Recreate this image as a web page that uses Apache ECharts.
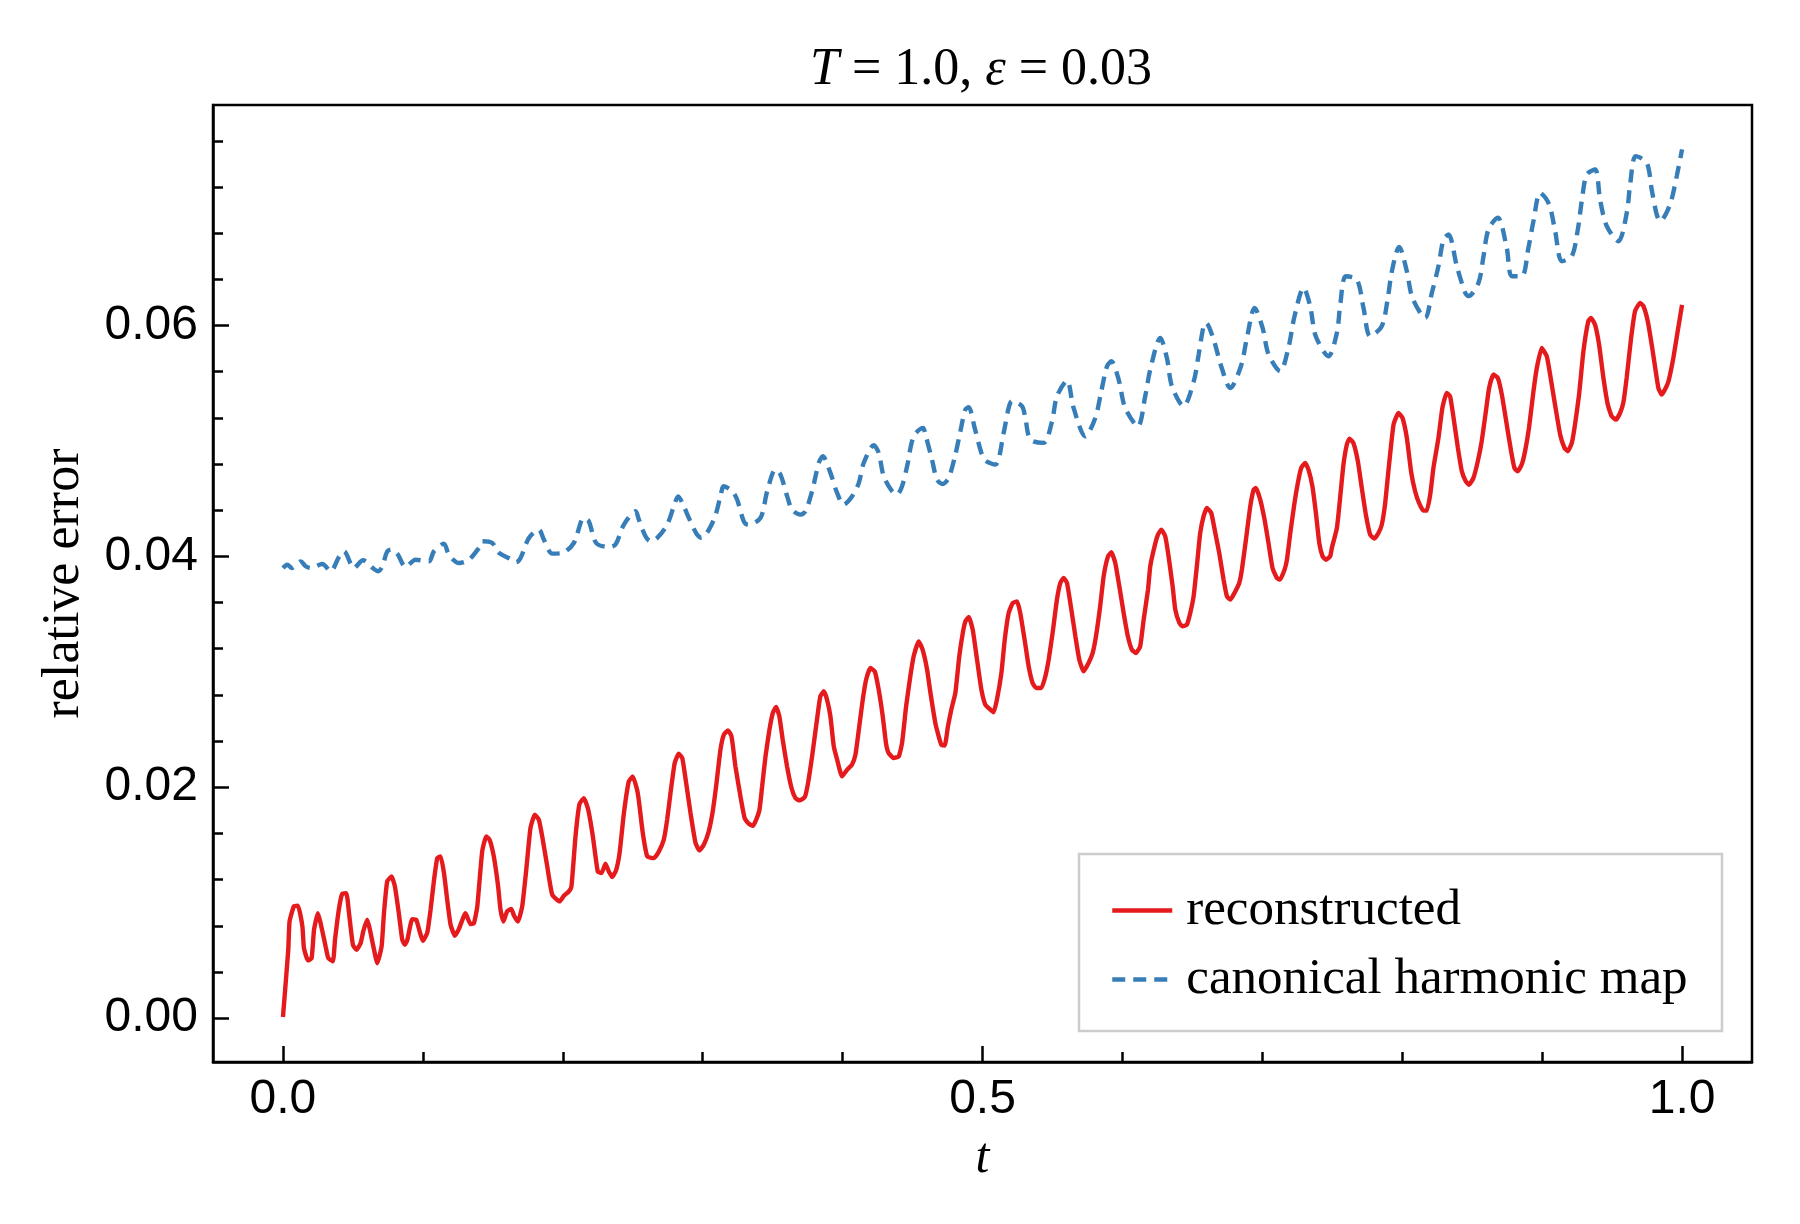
<!DOCTYPE html>
<html>
<head>
<meta charset="utf-8" />
<title>relative error</title>
<script type="text/javascript" src="https://cdn.jsdelivr.net/npm/echarts@6.0.0/dist/echarts.min.js"></script>
<style>
  html, body { margin: 0; padding: 0; background: #fff; }
  #chart { width: 1800px; height: 1224px; }
</style>
</head>
<body>
<div id="chart"></div>
<script type="text/javascript">
// values
var redT = [0.0000,0.0038,0.0047,0.0078,0.0107,0.0139,0.0150,0.0179,0.0205,0.0222,0.0250,0.0269,0.0305,0.0324,0.0357,0.0372,0.0401,0.0424,0.0453,0.0472,
  0.0500,0.0526,0.0555,0.0574,0.0602,0.0619,0.0651,0.0674,0.0705,0.0722,0.0745,0.0776,0.0800,0.0828,0.0853,0.0872,0.0889,0.0924,0.0953,0.0977,
  0.1000,0.1031,0.1055,0.1080,0.1103,0.1127,0.1151,0.1174,0.1198,0.1229,0.1257,0.1305,0.1340,0.1365,0.1389,0.1424,0.1453,0.1477,0.1507,0.1538,
  0.1555,0.1576,0.1602,0.1632,0.1651,0.1679,0.1710,0.1739,0.1769,0.1800,0.1829,0.1853,0.1889,0.1925,0.1977,0.2008,0.2043,0.2062,0.2091,0.2119,
  0.2151,0.2182,0.2215,0.2250,0.2277,0.2305,0.2329,0.2354,0.2382,0.2406,0.2437,0.2472,0.2501,0.2531,0.2543,0.2572,0.2604,0.2651,0.2687,0.2722,
  0.2746,0.2770,0.2800,0.2829,0.2854,0.2882,0.2913,0.2949,0.2977,0.3008,0.3043,0.3072,0.3096,0.3127,0.3151,0.3180,0.3206,0.3234,0.3270,0.3300,
  0.3329,0.3359,0.3382,0.3406,0.3425,0.3449,0.3477,0.3501,0.3525,0.3548,0.3572,0.3603,0.3635,0.3663,0.3692,0.3730,0.3753,0.3782,0.3817,0.3841,
  0.3866,0.3889,0.3913,0.3937,0.3961,0.3996,0.4032,0.4067,0.4092,0.4116,0.4144,0.4168,0.4199,0.4230,0.4258,0.4287,0.4310,0.4329,0.4365,0.4401,
  0.4425,0.4454,0.4484,0.4508,0.4544,0.4572,0.4604,0.4628,0.4663,0.4687,0.4706,0.4730,0.4753,0.4777,0.4806,0.4834,0.4859,0.4878,0.4902,0.4930,
  0.4961,0.4992,0.5020,0.5044,0.5079,0.5103,0.5135,0.5159,0.5187,0.5216,0.5247,0.5270,0.5301,0.5330,0.5358,0.5383,0.5421,0.5449,0.5473,0.5501,
  0.5532,0.5556,0.5580,0.5604,0.5635,0.5664,0.5692,0.5723,0.5758,0.5787,0.5811,0.5841,0.5866,0.5897,0.5921,0.5949,0.5978,0.6009,0.6039,0.6068,
  0.6096,0.6127,0.6152,0.6183,0.6199,0.6230,0.6254,0.6278,0.6306,0.6330,0.6359,0.6378,0.6407,0.6430,0.6461,0.6485,0.6509,0.6532,0.6556,0.6580,
  0.6604,0.6635,0.6664,0.6692,0.6723,0.6747,0.6771,0.6801,0.6835,0.6854,0.6883,0.6914,0.6938,0.6954,0.6985,0.7016,0.7044,0.7073,0.7104,0.7127,
  0.7159,0.7176,0.7200,0.7230,0.7254,0.7278,0.7306,0.7330,0.7358,0.7383,0.7407,0.7431,0.7454,0.7485,0.7497,0.7533,0.7556,0.7580,0.7604,0.7623,
  0.7651,0.7683,0.7711,0.7740,0.7771,0.7801,0.7830,0.7854,0.7877,0.7901,0.7938,0.7973,0.8002,0.8033,0.8063,0.8092,0.8120,0.8151,0.8175,0.8200,
  0.8223,0.8259,0.8287,0.8318,0.8342,0.8367,0.8398,0.8426,0.8454,0.8478,0.8509,0.8540,0.8568,0.8598,0.8621,0.8652,0.8683,0.8712,0.8747,0.8778,
  0.8802,0.8825,0.8854,0.8878,0.8906,0.8938,0.8962,0.8997,0.9033,0.9057,0.9092,0.9129,0.9160,0.9183,0.9212,0.9235,0.9264,0.9295,0.9330,0.9349,
  0.9378,0.9407,0.9438,0.9469,0.9497,0.9528,0.9557,0.9580,0.9604,0.9636,0.9664,0.9700,0.9724,0.9755,0.9783,0.9812,0.9831,0.9854,0.9878,0.9903,
  0.9938,0.9969,1.0000];
var redV = [0.00010,0.00592,0.00837,0.00968,0.00974,0.00794,0.00606,0.00500,0.00520,0.00765,0.00910,0.00823,0.00621,0.00520,0.00491,0.00678,0.00953,0.01077,0.01083,0.00910,
  0.00635,0.00592,0.00649,0.00751,0.00852,0.00780,0.00592,0.00476,0.00621,0.00910,0.01184,0.01227,0.01141,0.00910,0.00678,0.00635,0.00678,0.00857,0.00852,0.00751,
  0.00670,0.00737,0.00939,0.01199,0.01386,0.01401,0.01256,0.01025,0.00809,0.00714,0.00771,0.00910,0.00814,0.00823,0.00968,0.01444,0.01574,0.01546,0.01401,0.01141,
  0.00939,0.00837,0.00925,0.00945,0.00889,0.00837,0.00968,0.01285,0.01646,0.01762,0.01718,0.01574,0.01314,0.01068,0.01011,0.01060,0.01097,0.01141,0.01574,0.01852,
  0.01906,0.01805,0.01574,0.01271,0.01256,0.01338,0.01271,0.01222,0.01285,0.01430,0.01777,0.02051,0.02094,0.01979,0.01892,0.01603,0.01401,0.01386,0.01444,0.01546,
  0.01718,0.01950,0.02210,0.02290,0.02253,0.02036,0.01777,0.01517,0.01453,0.01502,0.01617,0.01791,0.02008,0.02325,0.02455,0.02493,0.02441,0.02181,0.01920,0.01732,
  0.01684,0.01666,0.01718,0.01805,0.02008,0.02267,0.02498,0.02643,0.02695,0.02614,0.02412,0.02181,0.01993,0.01906,0.01886,0.01915,0.02036,0.02267,0.02586,0.02788,
  0.02831,0.02758,0.02614,0.02354,0.02239,0.02094,0.02151,0.02195,0.02282,0.02498,0.02758,0.02932,0.03033,0.03004,0.02845,0.02614,0.02383,0.02296,0.02253,0.02267,
  0.02383,0.02701,0.02960,0.03134,0.03264,0.03192,0.03019,0.02817,0.02556,0.02441,0.02368,0.02362,0.02527,0.02672,0.02817,0.03134,0.03336,0.03438,0.03475,0.03365,
  0.03105,0.02845,0.02715,0.02686,0.02650,0.02758,0.02989,0.03278,0.03509,0.03596,0.03610,0.03509,0.03278,0.03047,0.02903,0.02860,0.02860,0.02960,0.03105,0.03336,
  0.03625,0.03769,0.03813,0.03769,0.03538,0.03307,0.03105,0.03004,0.03076,0.03162,0.03307,0.03567,0.03828,0.04000,0.04036,0.03943,0.03740,0.03509,0.03307,0.03191,
  0.03162,0.03220,0.03452,0.03712,0.03914,0.04087,0.04188,0.04232,0.04174,0.04000,0.03740,0.03538,0.03423,0.03394,0.03409,0.03509,0.03654,0.03914,0.04202,0.04347,
  0.04419,0.04376,0.04202,0.04030,0.03799,0.03654,0.03625,0.03683,0.03769,0.03885,0.04145,0.04434,0.04578,0.04592,0.04492,0.04318,0.04116,0.03899,0.03813,0.03799,
  0.03885,0.03971,0.04202,0.04463,0.04636,0.04766,0.04809,0.04751,0.04607,0.04376,0.04116,0.04000,0.03971,0.04000,0.04073,0.04245,0.04506,0.04795,0.04968,0.05020,
  0.04982,0.04823,0.04592,0.04362,0.04188,0.04154,0.04202,0.04275,0.04449,0.04737,0.05142,0.05242,0.05199,0.05026,0.04737,0.04564,0.04463,0.04396,0.04396,0.04535,
  0.04766,0.05026,0.05286,0.05416,0.05387,0.05199,0.04939,0.04737,0.04651,0.04621,0.04680,0.04823,0.04997,0.05257,0.05459,0.05575,0.05546,0.05401,0.05142,0.04911,
  0.04766,0.04737,0.04795,0.04911,0.05113,0.05430,0.05632,0.05806,0.05734,0.05575,0.05315,0.05054,0.04939,0.04911,0.04982,0.05142,0.05401,0.05777,0.06037,0.06066,
  0.06008,0.05835,0.05546,0.05315,0.05214,0.05185,0.05242,0.05329,0.05546,0.05893,0.06124,0.06196,0.06167,0.06037,0.05835,0.05603,0.05459,0.05401,0.05445,0.05517,
  0.05720,0.05951,0.06179];

var blueT = [0.0000,0.0031,0.0062,0.0127,0.0162,0.0198,0.0281,0.0341,0.0400,0.0436,0.0508,0.0572,0.0650,0.0681,0.0710,0.0746,0.0777,0.0817,0.0877,0.0948,
  0.1043,0.1079,0.1150,0.1186,0.1258,0.1329,0.1400,0.1424,0.1496,0.1539,0.1627,0.1667,0.1698,0.1758,0.1829,0.1865,0.1925,0.1996,0.2079,0.2151,
  0.2186,0.2239,0.2329,0.2377,0.2437,0.2520,0.2544,0.2591,0.2627,0.2675,0.2746,0.2794,0.2825,0.2865,0.2901,0.2960,0.2991,0.3080,0.3127,0.3151,
  0.3211,0.3246,0.3294,0.3325,0.3413,0.3461,0.3520,0.3556,0.3604,0.3639,0.3699,0.3734,0.3782,0.3830,0.3858,0.3913,0.3961,0.4008,0.4068,0.4116,
  0.4151,0.4223,0.4258,0.4294,0.4354,0.4389,0.4425,0.4461,0.4508,0.4575,0.4592,0.4639,0.4675,0.4715,0.4758,0.4806,0.4842,0.4877,0.4901,0.4944,
  0.4992,0.5020,0.5092,0.5151,0.5187,0.5211,0.5282,0.5306,0.5342,0.5437,0.5497,0.5532,0.5604,0.5651,0.5735,0.5806,0.5849,0.5890,0.5920,0.5973,
  0.6020,0.6111,0.6163,0.6199,0.6271,0.6318,0.6354,0.6437,0.6510,0.6545,0.6580,0.6597,0.6652,0.6706,0.6771,0.6847,0.6890,0.6945,0.7002,0.7045,
  0.7128,0.7188,0.7230,0.7295,0.7342,0.7382,0.7473,0.7533,0.7557,0.7597,0.7676,0.7723,0.7771,0.7854,0.7897,0.7926,0.7978,0.8033,0.8073,0.8164,
  0.8212,0.8259,0.8295,0.8331,0.8390,0.8450,0.8474,0.8545,0.8581,0.8616,0.8683,0.8747,0.8783,0.8855,0.8902,0.8938,0.8986,0.9050,0.9093,0.9141,
  0.9212,0.9255,0.9283,0.9319,0.9379,0.9414,0.9462,0.9545,0.9605,0.9629,0.9669,0.9748,0.9783,0.9819,0.9843,0.9914,0.9962,1.0000];
var blueV = [0.03899,0.03928,0.03899,0.03957,0.03914,0.03899,0.03934,0.03871,0.03995,0.04044,0.03899,0.03966,0.03891,0.03871,0.03914,0.04044,0.04058,0.04024,0.03908,0.03971,
  0.03957,0.04044,0.04110,0.04015,0.03943,0.03971,0.04073,0.04131,0.04116,0.04035,0.03977,0.03949,0.03986,0.04159,0.04231,0.04145,0.04024,0.04029,0.04116,0.04333,
  0.04304,0.04116,0.04081,0.04102,0.04275,0.04391,0.04318,0.04174,0.04131,0.04160,0.04275,0.04434,0.04520,0.04434,0.04333,0.04188,0.04160,0.04318,0.04520,0.04607,
  0.04564,0.04492,0.04304,0.04275,0.04333,0.04564,0.04752,0.04708,0.04520,0.04405,0.04362,0.04390,0.04564,0.04809,0.04867,0.04723,0.04549,0.04448,0.04520,0.04636,
  0.04809,0.04962,0.04896,0.04694,0.04564,0.04535,0.04607,0.04780,0.05040,0.05113,0.05055,0.04838,0.04665,0.04627,0.04679,0.04882,0.05084,0.05271,0.05292,0.05113,
  0.04896,0.04830,0.04795,0.05069,0.05286,0.05344,0.05301,0.05199,0.05012,0.04983,0.05171,0.05387,0.05523,0.05286,0.05040,0.05199,0.05430,0.05647,0.05690,0.05532,
  0.05286,0.05127,0.05387,0.05618,0.05893,0.05719,0.05474,0.05301,0.05517,0.05748,0.05994,0.06023,0.05878,0.05647,0.05459,0.05647,0.05893,0.06153,0.05979,0.05748,
  0.05604,0.05815,0.06080,0.06326,0.06167,0.05907,0.05734,0.05936,0.06181,0.06427,0.06398,0.06153,0.05907,0.05994,0.06239,0.06470,0.06681,0.06470,0.06239,0.06066,
  0.06283,0.06514,0.06745,0.06788,0.06514,0.06283,0.06254,0.06369,0.06600,0.06831,0.06933,0.06673,0.06427,0.06427,0.06673,0.06904,0.07149,0.07048,0.06817,0.06557,
  0.06600,0.06831,0.07077,0.07308,0.07351,0.07091,0.06860,0.06730,0.06976,0.07221,0.07467,0.07409,0.07178,0.06961,0.06904,0.07048,0.07294,0.07525];

// ticks
var xMajor = [0, 0.5, 1.0];
var xMinor = [0.1, 0.2, 0.3, 0.4, 0.6, 0.7, 0.8, 0.9];
var yMajor = [0, 0.02, 0.04, 0.06];
var yMinor = [0.004, 0.008, 0.012, 0.016, 0.024, 0.028, 0.032, 0.036, 0.044, 0.048, 0.052, 0.056, 0.064, 0.068, 0.072, 0.076];

var seriesNames = ['reconstructed', 'canonical harmonic map'];

function zip(a, b) {
  var res = [];
  for (var i = 0; i < a.length; i++) res.push([a[i], b[i]]);
  return res;
}

var serif = "'Liberation Serif', 'DejaVu Serif', serif";
var sans = "'Liberation Sans', Arial, sans-serif";
var xMin = -0.05, xMax = 1.05, yMin = -0.0038, yMax = 0.0791;

var chart = echarts.init(document.getElementById('chart'));
var option = {
  backgroundColor: '#ffffff',
  animation: false,
  title: {
    text: '{i|T}{n| = 1.0, }{i|ε}{n| = 0.03}',
    left: 976,
    top: 39,
    textAlign: 'center',
    textStyle: {
      fontWeight: 'normal',
      rich: {
        i: { fontFamily: serif, fontStyle: 'italic', fontWeight: 'normal', fontSize: 52, color: '#000' },
        n: { fontFamily: serif, fontWeight: 'normal', fontSize: 52, color: '#000' }
      }
    }
  },
  grid: {
    left: 213, right: 48, top: 105, bottom: 162,
    show: true, borderColor: '#000', borderWidth: 2.5, backgroundColor: 'transparent'
  },
  legend: {
    orient: 'vertical',
    left: 1110, top: 885,
    z: 10,
    data: seriesNames,
    itemWidth: 60, itemHeight: 16, itemGap: 18,
    padding: 0,
    itemStyle: { opacity: 0 },
    lineStyle: { width: 4.5 },
    textStyle: { fontFamily: serif, fontSize: 51, color: '#000', padding: [0, 0, 0, 9] }
  },
  graphic: [{
    type: 'rect', z: 3,
    shape: { x: 1079, y: 854, width: 643, height: 177 },
    style: { fill: '#ffffff', stroke: '#cccccc', lineWidth: 2.5 }
  }],
  xAxis: [{
    type: 'value', min: xMin, max: xMax,
    name: 't', nameLocation: 'middle', nameGap: 72,
    nameTextStyle: { fontFamily: serif, fontStyle: 'italic', fontSize: 50, color: '#000' },
    axisLine: { show: true, onZero: false, lineStyle: { color: '#000', width: 2.5 } },
    axisTick: { show: true, inside: true, length: 16, customValues: xMajor, lineStyle: { color: '#000', width: 2.5 } },
    axisLabel: { customValues: xMajor, margin: 14, fontFamily: sans, fontSize: 48, color: '#000',
      formatter: function (v) { return v.toFixed(1); } },
    splitLine: { show: false }
  }, {
    type: 'value', min: xMin, max: xMax, position: 'bottom',
    axisLine: { show: false, onZero: false },
    axisTick: { show: true, inside: true, length: 10, customValues: xMinor, lineStyle: { color: '#000', width: 2.5 } },
    axisLabel: { show: false },
    splitLine: { show: false }
  }],
  yAxis: [{
    type: 'value', min: yMin, max: yMax,
    name: 'relative error', nameLocation: 'middle', nameRotate: 90, nameGap: 123,
    nameTextStyle: { fontFamily: serif, fontSize: 52, color: '#000' },
    axisLine: { show: true, onZero: false, lineStyle: { color: '#000', width: 2.5 } },
    axisTick: { show: true, inside: true, length: 16, customValues: yMajor, lineStyle: { color: '#000', width: 2.5 } },
    axisLabel: { customValues: yMajor, margin: 15, fontFamily: sans, fontSize: 48, color: '#000',
      formatter: function (v) { return v.toFixed(2); } },
    splitLine: { show: false }
  }, {
    type: 'value', min: yMin, max: yMax, position: 'left',
    axisLine: { show: false, onZero: false },
    axisTick: { show: true, inside: true, length: 10, customValues: yMinor, lineStyle: { color: '#000', width: 2.5 } },
    axisLabel: { show: false },
    splitLine: { show: false }
  }],
  series: [{
    name: seriesNames[0],
    type: 'line',
    data: zip(redT, redV),
    showSymbol: false, symbol: 'none',
    smooth: 0.15,
    lineStyle: { color: '#e41a1c', width: 4.4 },
    itemStyle: { color: '#e41a1c' }
  }, {
    name: seriesNames[1],
    type: 'line',
    data: zip(blueT, blueV),
    showSymbol: false, symbol: 'none',
    smooth: 0.3,
    lineStyle: { color: '#377eb8', width: 4.4, type: [13, 8] },
    itemStyle: { color: '#377eb8' }
  }]
};
chart.setOption(option);
</script>
</body>
</html>
